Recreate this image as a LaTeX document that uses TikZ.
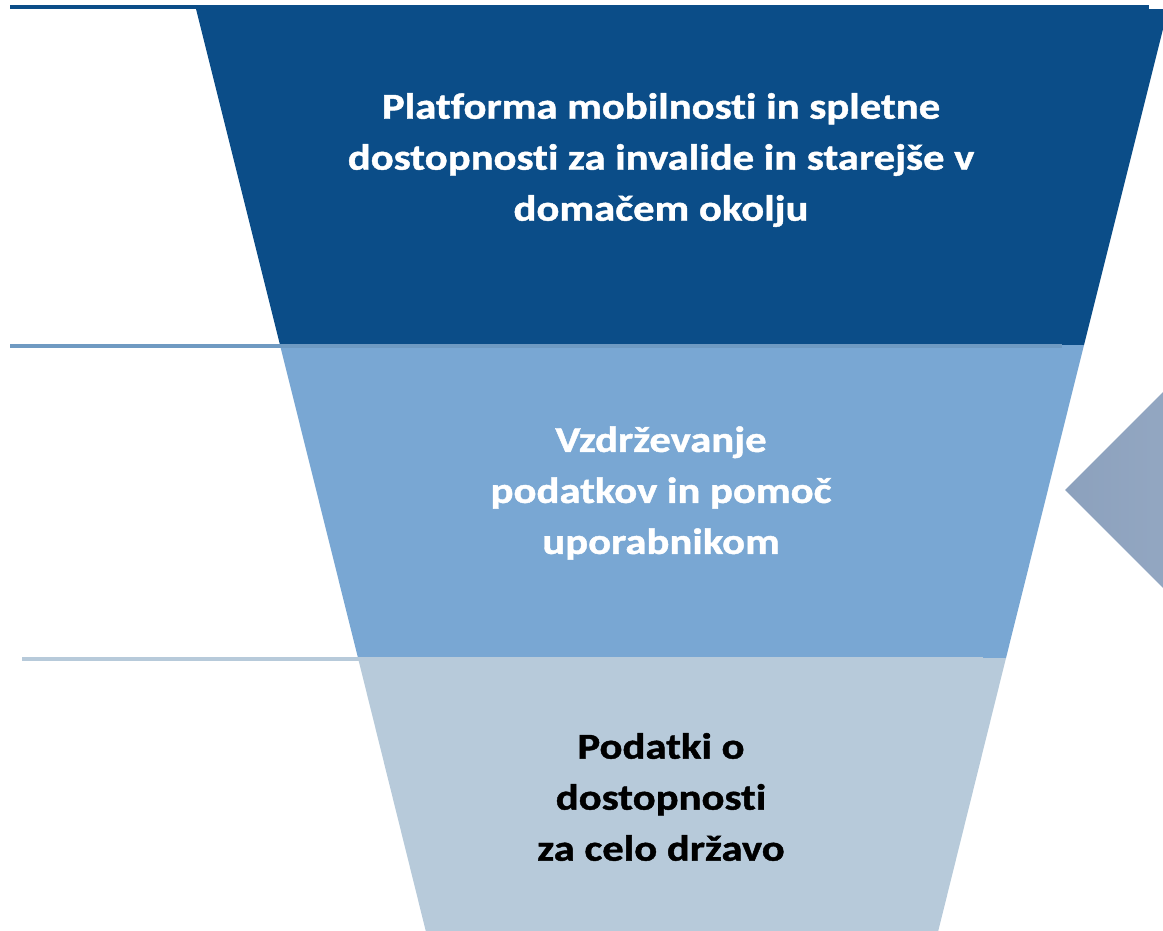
\documentclass[tikz,border=0pt]{standalone}
\usepackage{fontspec}
\setmainfont{Carlito}[FakeStretch=1.17, Ligatures={NoCommon}, BoldFeatures={FakeBold=1.2}]
\definecolor{dark}{HTML}{0B4D88}
\definecolor{mid}{HTML}{79A7D3}
\definecolor{light}{HTML}{B7CADA}
\definecolor{triL}{HTML}{8CA1BD}
\definecolor{triR}{HTML}{99ACC6}
\tikzset{
  lbl/.style={align=center, inner sep=0pt, font=\fontsize{36.5}{51}\selectfont\bfseries},
  sep/.style={line width=4pt}
}
\begin{document}
\begin{tikzpicture}[x=1pt,y=-1pt]
\useasboundingbox (0,0) rectangle (1163,930);
\clip (0,0) rectangle (1163,930);
% layers
\fill[dark] (196,9) -- (1168,9) -- (1084,345) -- (280,345) -- cycle;
\fill[mid] (280,345) -- (1084,345) -- (1006,658) -- (358,658) -- cycle;
\fill[light] (358,658) -- (1006,658) -- (937,936) -- (427,936) -- cycle;
% separator lines
\coordinate (t1) at (10,7); \coordinate (t2) at (1149,7);
\coordinate (m1) at (10,346); \coordinate (m2) at (1062,346);
\coordinate (b1) at (22,659); \coordinate (b2) at (983,659);
\draw[sep, dark] (t1) -- (t2);
\draw[sep, mid!92!black] (m1) -- (m2);
\draw[sep, light] (b1) -- (b2);
% arrow triangle
\shade[left color=triL, right color=triR] (1065,490) -- (1265,290) -- (1265,690) -- cycle;
% labels
\node[lbl, text=white] (top) at (661,160) {Platforma mobilnosti in spletne\\dostopnosti za invalide in starejše v\\domačem okolju};
\node[lbl, text=white] (middle) at (661,493) {Vzdrževanje\\podatkov in pomoč\\uporabnikom};
\node[lbl, text=black] (bottom) at (661,797) {Podatki o\\dostopnosti\\za celo državo};
\end{tikzpicture}
\end{document}
